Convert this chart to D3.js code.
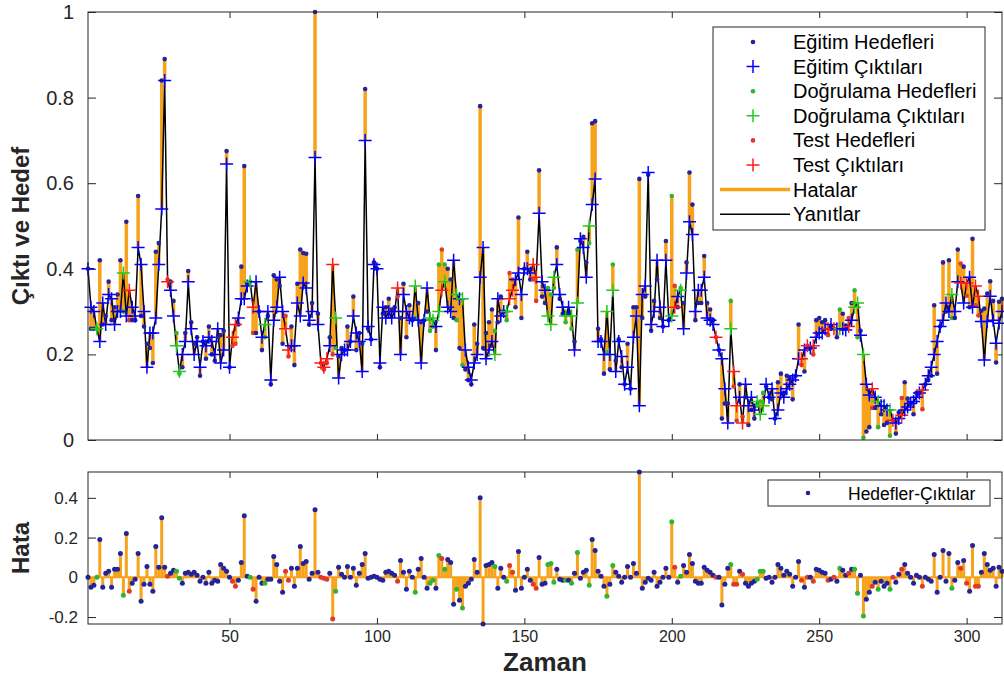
<!DOCTYPE html>
<html>
<head>
<meta charset="utf-8">
<script src="https://cdn.jsdelivr.net/npm/d3@7"></script>
<style>
  body { margin: 0; background: #fff; }
  svg { font-family: "Liberation Sans", Arial, sans-serif; }
</style>
</head>
<body>
<div id="chart-area"></div>
<script>

// time steps start at 2 (one delay)
const timeStart = 2;

const outputs = [
  .40,.31,.30,.26,.23,.32,.27,.34,.33,.27,
  .30,.30,.39,.29,.35,.31,.29,.45,.41,.30,
  .17,.25,.25,.285,.41,.54,.84,.37,.35,.29,
  .22,.16,.20,.23,.37,.26,.20,.23,.17,
  .23,.22,.24,.23,.20,.26,.18,.21,.645,.17,
  .24,.27,.285,.33,.33,.36,.37,.31,.37,.30,
  .24,.27,.30,.14,.28,.31,.38,.30,.26,.21,
  .22,.22,.32,.29,.367,.355,.28,.30,.66,.27,
  .18,.17,.19,.22,.41,.285,.145,.20,.21,.21,
  .23,.29,.25,.23,.16,.70,.265,.235,.41,.40,
  .18,.31,.285,.30,.285,.30,.355,.20,.34,.30,
  .285,.28,.36,.28,.18,.28,.355,.285,.28,.265,
  .30,.35,.37,.31,.30,.42,.34,.33,.33,.21,
  .17,.14,.18,.20,.38,.45,.19,.21,.23,
  .20,.33,.29,.30,.30,.33,.35,.375,.39,.34,
  .40,.40,.39,.41,.38,.53,.37,.35,.29,.27,
  .38,.41,.34,.31,.29,.31,.29,.21,.32,.47,
  .45,.38,.50,.55,.61,.23,.23,.20,.30,.20,
  .35,.16,.23,.195,.13,.17,.12,.24,.29,.08,
  .34,.36,.625,.27,.30,.42,.31,.265,.42,.28,
  .29,.31,.335,.35,.26,.39,.51,.48,.30,.35,
  .35,.38,.285,.28,.27,.24,.21,.19,.12,.04,
  .26,.16,.08,.10,.04,.13,.08,.10,.07,.09,
  .06,.08,.13,.10,.12,.05,.07,.11,.10,.12,
  .13,.14,.15,.19,.19,.21,.22,.215,.22,
  .24,.25,.25,.26,.26,.27,.26,.26,.26,.26,
  .257,.265,.28,.31,.32,.245,.20,.13,.105,.12,
  .10,.09,.08,.08,.07,.07,.046,.04,.05,.058,
  .07,.077,.085,.09,.10,.11,.117,.13,.15,.17,
  .20,.23,.265,.28,.32,.30,.34,.30,.37,.367,
  .32,.367,.38,.31,.36,.336,.277,.187,.277,.336,.28,.226,.273,
  .30
];

const targets = [
  .40,.26,.26,.26,.42,.27,.29,.37,.28,.31,
  .34,.42,.30,.51,.28,.28,.28,.57,.29,.265,
  .225,.215,.18,.44,.46,.84,.89,.375,.37,.325,
  .25,.155,.17,.25,.395,.275,.225,.24,.15,
  .23,.19,.265,.20,.185,.24,.245,.255,.675,.17,
  .22,.225,.27,.405,.64,.365,.37,.25,.25,.30,
  .21,.24,.29,.13,.385,.375,.36,.225,.29,.195,
  .265,.175,.365,.445,.437,.435,.27,.32,1.0,.295,
  .18,.165,.18,.24,.20,.215,.195,.215,.21,.265,
  .23,.335,.21,.25,.225,.82,.26,.235,.415,.40,
  .17,.295,.31,.33,.305,.31,.335,.285,.365,.24,
  .315,.28,.285,.32,.275,.28,.30,.255,.265,.21,
  .41,.445,.41,.40,.375,.285,.28,.215,.175,.165,
  .14,.13,.27,.225,.78,.215,.25,.275,.305,
  .255,.275,.335,.30,.28,.39,.375,.31,.52,.285,
  .40,.44,.375,.375,.325,.63,.335,.32,.355,.34,
  .355,.45,.33,.295,.275,.295,.26,.23,.445,.465,
  .475,.415,.46,.74,.745,.26,.235,.155,.205,.165,
  .41,.185,.235,.17,.13,.225,.12,.31,.31,.61,
  .285,.335,.62,.255,.325,.375,.285,.265,.465,.28,
  .57,.36,.31,.355,.32,.415,.625,.55,.28,.32,
  .32,.43,.32,.305,.28,.24,.21,.05,.085,.085,
  .325,.125,.045,.13,.055,.10,.035,.07,.05,.08,
  .09,.11,.125,.10,.095,.05,.135,.155,.11,.15,
  .145,.095,.15,.27,.175,.16,.22,.215,.20,
  .28,.285,.275,.28,.245,.26,.26,.24,.305,.295,
  .267,.285,.32,.35,.24,.255,.005,.02,.03,.075,
  .075,.03,.06,.035,.04,.01,.046,.015,.065,.098,
  .135,.097,.085,.06,.11,.11,.072,.13,.14,.15,
  .315,.155,.265,.415,.30,.42,.285,.285,.445,.412,
  .405,.337,.31,.47,.315,.291,.302,.307,.342,.371,.325,.181,.323,
  .33
];

// time steps belonging to the validation and test subsets (the rest are training)
const validationSteps = [5, 14, 32, 33, 57, 62, 86, 113, 118, 119, 121, 123, 127, 129, 140, 144,
  158, 159, 160, 164, 166, 168, 172, 178, 180, 200, 203, 220, 229, 230, 231, 257, 262, 263,
  265, 270, 274, 295];
const testSteps = [16, 29, 51, 52, 58, 69, 70, 81, 82, 83, 85, 107, 122, 145, 146, 153, 154,
  201, 215, 221, 222, 224, 244, 246, 248, 253, 255, 260, 268, 275, 278, 285, 298, 300, 303, 304];

const xTicks = [50, 100, 150, 200, 250, 300];
const yTicksTop = [0, 0.2, 0.4, 0.6, 0.8, 1];
const yTicksBottom = [-0.2, 0, 0.2, 0.4];

const legendTop = [
  { label: 'Eğitim Hedefleri', kind: 'dot', set: 'train' },
  { label: 'Eğitim Çıktıları', kind: 'plus', set: 'train' },
  { label: 'Doğrulama Hedefleri', kind: 'dot', set: 'val' },
  { label: 'Doğrulama Çıktıları', kind: 'plus', set: 'val' },
  { label: 'Test Hedefleri', kind: 'dot', set: 'test' },
  { label: 'Test Çıktıları', kind: 'plus', set: 'test' },
  { label: 'Hatalar', kind: 'error' },
  { label: 'Yanıtlar', kind: 'response' },
];
const legendBottom = 'Hedefler-Çıktılar';

const dotColor = { train: '#23239c', val: '#2fb52f', test: '#e03a2a' };
const plusColor = { train: '#0000ff', val: '#1fcc1f', test: '#ff1a1a' };
const errColor = '#f7a21b';
const axisColor = '#262626';

const data = outputs.map((o, i) => {
  const time = timeStart + i;
  const set = validationSteps.includes(time) ? 'val' : testSteps.includes(time) ? 'test' : 'train';
  return { time, output: o, target: targets[i], error: targets[i] - o, set };
});

const widthSvg = 1004;
const heightSvg = 681;
const left = 88, right = 1002;
const top1 = 12, bottom1 = 440;
const top2 = 472, bottom2 = 624;

const svg = d3.select('#chart-area').append('svg')
  .attr('width', widthSvg)
  .attr('height', heightSvg);

const scaleX = d3.scaleLinear()
  .domain(d3.extent(data, d => d.time))
  .range([left, right]);

const scaleY = d3.scaleLinear()
  .domain(d3.extent(data.flatMap(d => [d.output, d.target]))).nice()
  .range([bottom1, top1]);

const scaleE = d3.scaleLinear()
  .domain(d3.extent(data, d => d.error))
  .range([bottom2, top2]);

const plusPath = 'M-6.5,0H6.5M0,-6.5V6.5';
const tickText = d => String(d);   // plain hyphen for negatives, like the original

// ---------- frames and axes ----------
const drawFrame = (yScale, yTicks, y0, y1, labelSize, pad, showX) => {
  const g = svg.append('g');
  g.append('rect')
    .attr('x', left).attr('y', y0)
    .attr('width', right - left).attr('height', y1 - y0)
    .attr('fill', '#fff');

  const axisB = g.append('g')
    .attr('transform', `translate(0, ${y1})`)
    .call(d3.axisBottom(scaleX).tickValues(xTicks).tickSize(-6).tickSizeOuter(0).tickPadding(7)
      .tickFormat(showX ? tickText : ''));
  const axisT = g.append('g')
    .attr('transform', `translate(0, ${y0})`)
    .call(d3.axisTop(scaleX).tickValues(xTicks).tickSize(-6).tickSizeOuter(0).tickFormat(''));
  const axisL = g.append('g')
    .attr('transform', `translate(${left}, 0)`)
    .call(d3.axisLeft(yScale).tickValues(yTicks).tickSize(-8).tickSizeOuter(0).tickPadding(pad)
      .tickFormat(tickText));
  const axisR = g.append('g')
    .attr('transform', `translate(${right}, 0)`)
    .call(d3.axisRight(yScale).tickValues(yTicks).tickSize(-8).tickSizeOuter(0).tickFormat(''));

  [axisB, axisT, axisL, axisR].forEach(a => {
    a.select('.domain').remove();
    a.selectAll('line').attr('stroke', axisColor);
    a.selectAll('text').attr('fill', axisColor).attr('font-family', null);
  });
  axisL.selectAll('text').attr('font-size', labelSize);
  axisB.selectAll('text').attr('font-size', 16);
  return g;
};

drawFrame(scaleY, yTicksTop, top1, bottom1, 20, 14, false);
drawFrame(scaleE, yTicksBottom, top2, bottom2, 17, 10, true);

// ---------- top: response ----------
const chart = svg.append('g');

chart.selectAll('line.err')
  .data(data)
  .enter().append('line')
    .attr('x1', d => scaleX(d.time)).attr('x2', d => scaleX(d.time))
    .attr('y1', d => scaleY(d.output)).attr('y2', d => scaleY(d.target))
    .attr('stroke', errColor)
    .attr('stroke-width', 3.5);

chart.append('path')
  .datum(data)
  .attr('d', d3.line().x(d => scaleX(d.time)).y(d => scaleY(d.output)))
  .attr('fill', 'none')
  .attr('stroke', '#000')
  .attr('stroke-width', 1.5);

chart.selectAll('circle.tgt')
  .data(data)
  .enter().append('circle')
    .attr('cx', d => scaleX(d.time))
    .attr('cy', d => scaleY(d.target))
    .attr('r', 2.3)
    .attr('fill', d => dotColor[d.set]);

chart.selectAll('path.out')
  .data(data)
  .enter().append('path')
    .attr('d', plusPath)
    .attr('transform', d => `translate(${scaleX(d.time)}, ${scaleY(d.output)})`)
    .attr('stroke', d => plusColor[d.set])
    .attr('stroke-width', 1.5)
    .attr('fill', 'none');

// ---------- bottom: errors ----------
const chartE = svg.append('g');

chartE.append('line')
  .attr('x1', left).attr('x2', right)
  .attr('y1', scaleE(0)).attr('y2', scaleE(0))
  .attr('stroke', errColor)
  .attr('stroke-width', 2);

chartE.selectAll('line.stem')
  .data(data)
  .enter().append('line')
    .attr('x1', d => scaleX(d.time)).attr('x2', d => scaleX(d.time))
    .attr('y1', scaleE(0)).attr('y2', d => scaleE(d.error))
    .attr('stroke', errColor)
    .attr('stroke-width', 3);

chartE.selectAll('circle.e')
  .data(data)
  .enter().append('circle')
    .attr('cx', d => scaleX(d.time))
    .attr('cy', d => scaleE(d.error))
    .attr('r', 2.5)
    .attr('fill', d => dotColor[d.set]);

// ---------- frame borders on top ----------
[[top1, bottom1], [top2, bottom2]].forEach(([y0, y1]) => {
  svg.append('rect')
    .attr('x', left).attr('y', y0)
    .attr('width', right - left).attr('height', y1 - y0)
    .attr('fill', 'none')
    .attr('stroke', axisColor)
    .attr('stroke-width', 1);
});

// ---------- legends ----------
const leg = svg.append('g').attr('transform', 'translate(713, 27)');
leg.append('rect')
  .attr('width', 272).attr('height', 203)
  .attr('fill', '#fff').attr('stroke', axisColor);

const rows = leg.selectAll('g.row')
  .data(legendTop)
  .enter().append('g')
    .attr('transform', (d, i) => `translate(0, ${15 + i * 24.6})`);

rows.filter(d => d.kind === 'dot').append('circle')
  .attr('cx', 40).attr('r', 2.3)
  .attr('fill', d => dotColor[d.set]);
rows.filter(d => d.kind === 'plus').append('path')
  .attr('d', plusPath)
  .attr('transform', 'translate(40, 0)')
  .attr('stroke', d => plusColor[d.set])
  .attr('stroke-width', 1.5);
rows.filter(d => d.kind === 'error' || d.kind === 'response').append('line')
  .attr('x1', 7).attr('x2', 77)
  .attr('stroke', d => d.kind === 'error' ? errColor : '#000')
  .attr('stroke-width', d => d.kind === 'error' ? 3.5 : 1.5);
rows.append('text')
  .attr('x', 80).attr('y', 7)
  .attr('font-size', 20)
  .attr('fill', '#000')
  .text(d => d.label);

const legE = svg.append('g').attr('transform', 'translate(768, 480)');
legE.append('rect')
  .attr('width', 222).attr('height', 26)
  .attr('fill', '#fff').attr('stroke', axisColor);
legE.append('circle')
  .attr('cx', 40).attr('cy', 13).attr('r', 2.3)
  .attr('fill', dotColor.train);
legE.append('text')
  .attr('x', 80).attr('y', 19.5)
  .attr('font-size', 17.5)
  .text(legendBottom);

// ---------- axis titles ----------
svg.append('text')
  .text('Çıktı ve Hedef')
    .attr('transform', `translate(29, ${(top1 + bottom1) / 2}) rotate(-90)`)
    .attr('text-anchor', 'middle')
    .attr('font-weight', 'bold')
    .attr('font-size', 24)
    .attr('fill', axisColor);

svg.append('text')
  .text('Hata')
    .attr('transform', `translate(29, ${(top2 + bottom2) / 2}) rotate(-90)`)
    .attr('text-anchor', 'middle')
    .attr('font-weight', 'bold')
    .attr('font-size', 24)
    .attr('fill', axisColor);

svg.append('text')
  .text('Zaman')
    .attr('x', (left + right) / 2)
    .attr('y', 671)
    .attr('text-anchor', 'middle')
    .attr('font-weight', 'bold')
    .attr('font-size', 26)
    .attr('fill', axisColor);

</script>
</body>
</html>
